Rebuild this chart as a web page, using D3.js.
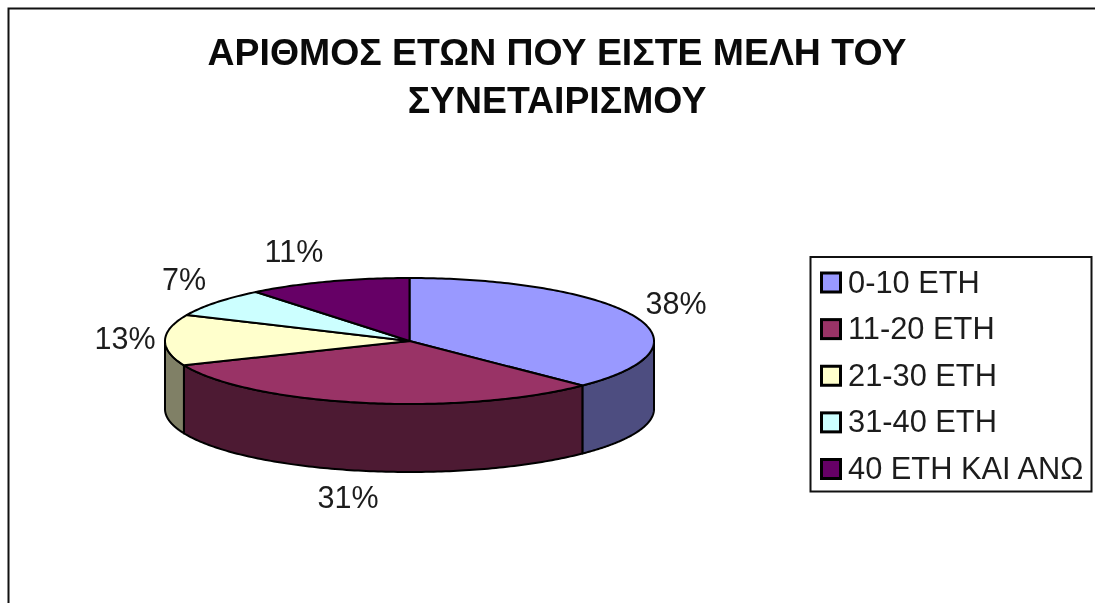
<!DOCTYPE html>
<html><head><meta charset="utf-8">
<style>html,body{margin:0;padding:0;background:#fff;overflow:hidden}svg{display:block;filter:blur(0.45px)}</style>
<script src="https://cdn.jsdelivr.net/npm/d3@7/dist/d3.min.js"></script>
</head><body><svg id="c" width="1095" height="603"></svg>
<script>
const titleLines = ["ΑΡΙΘΜΟΣ ΕΤΩΝ ΠΟΥ ΕΙΣΤΕ ΜΕΛΗ ΤΟΥ", "ΣΥΝΕΤΑΙΡΙΣΜΟΥ"];
const categories = ["0-10 ΕΤΗ", "11-20 ΕΤΗ", "21-30 ΕΤΗ", "31-40 ΕΤΗ", "40 ΕΤΗ ΚΑΙ ΑΝΩ"];
const values = [37.5, 31.2, 13.1, 7.4, 10.8];
const topColors = ["#9999ff", "#993366", "#ffffcc", "#ccffff", "#660066"];
const sideColors = ["#4d4d80", "#4d1a33", "#808066", "#668080", "#330033"];
const labelPos = [[676,314],[348,508],[125,349],[184,290],[294,262]];

const W = 1095, H = 603, cx = 409.5, cy = 341, rx = 244.5, ry = 63, depth = 68;
const svg = d3.select("#c");
const font = "'Liberation Sans', Arial, sans-serif";
const ink = "#1c1c1c";

svg.append("path").attr("d", `M8.5 ${H} V8.5 H${W}`).attr("fill","none").attr("stroke","#111").attr("stroke-width",2);

svg.append("g").selectAll("text").data(titleLines).join("text")
  .attr("x", 557).attr("y", (d,i)=> 65 + i*48)
  .attr("text-anchor","middle").attr("font-family",font).attr("font-weight","bold")
  .attr("font-size",37.4).attr("fill","#0a0a0a").text(d=>d);

const arcs = d3.pie().sort(null).value(d=>d)(values);
const px = a => cx + rx*Math.sin(a);
const py = a => cy - ry*Math.cos(a);

// side walls: only the front half of the rim (angles PI/2 .. 3PI/2) is visible
const front0 = Math.PI/2, front1 = 3*Math.PI/2;
const walls = arcs.map((d,i)=>({i, a0:Math.max(d.startAngle,front0), a1:Math.min(d.endAngle,front1)})).filter(d=>d.a1>d.a0);
svg.append("g").selectAll("path").data(walls).join("path")
  .attr("d", d=>{
    const top = d3.range(0,121).map(k=>{const a=d.a0+(d.a1-d.a0)*k/120;return [px(a),py(a)];});
    const bot = top.slice().reverse().map(q=>[q[0],q[1]+depth]);
    return d3.line()(top.concat(bot))+"Z";
  })
  .attr("fill",d=>sideColors[d.i]).attr("stroke","#000").attr("stroke-width",2).attr("stroke-linejoin","round");

// top faces
svg.append("g").selectAll("path").data(arcs).join("path")
  .attr("d", d=>{
    const n=Math.ceil((d.endAngle-d.startAngle)*60);
    const pts=[[cx,cy]].concat(d3.range(n+1).map(k=>{const a=d.startAngle+(d.endAngle-d.startAngle)*k/n;return [px(a),py(a)];}));
    return d3.line()(pts)+"Z";
  })
  .attr("fill",(d,i)=>topColors[i]).attr("stroke","#000").attr("stroke-width",2).attr("stroke-linejoin","round");

// percent labels
svg.append("g").selectAll("text").data(values).join("text")
  .attr("x",(d,i)=>labelPos[i][0]).attr("y",(d,i)=>labelPos[i][1])
  .attr("text-anchor","middle").attr("font-family",font).attr("font-size",30.5)
  .attr("fill",ink).text(d=>Math.round(d)+"%");

// legend
const lg = svg.append("g");
lg.append("rect").attr("x",810.5).attr("y",257).attr("width",281).attr("height",234.5)
  .attr("fill","#fff").attr("stroke","#111").attr("stroke-width",2);
const ly = d3.scalePoint().domain(categories).range([282.5,469]);
const row = lg.selectAll("g").data(categories).join("g").attr("transform",d=>`translate(0,${ly(d)})`);
row.append("rect").attr("x",821.5).attr("y",-9.5).attr("width",19).attr("height",19)
  .attr("fill",(d,i)=>topColors[i]).attr("stroke","#000").attr("stroke-width",3);
row.append("text").attr("x",848).attr("y",10).attr("font-family",font).attr("font-size",30.8)
  .attr("fill",ink).text(d=>d);
</script></body></html>
